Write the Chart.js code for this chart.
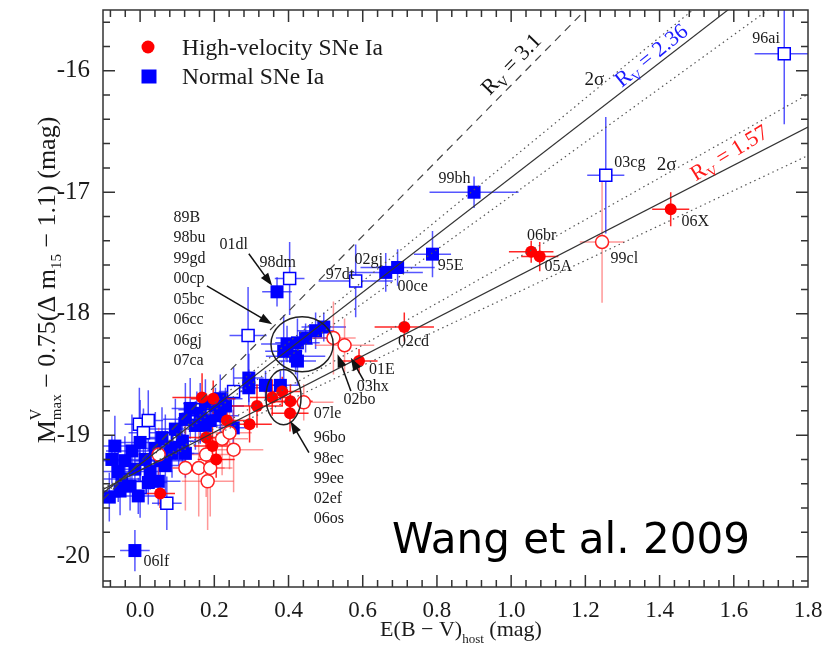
<!DOCTYPE html>
<html>
<head>
<meta charset="utf-8">
<script src="https://cdn.jsdelivr.net/npm/chart.js@4.4.1/dist/chart.umd.min.js"></script>
<style>
  html, body { margin: 0; padding: 0; background: #fff; }
</style>
</head>
<body>
<canvas id="rvChart" width="831" height="649"></canvas>
<script>
// ---- data: [E(B-V), Mmax corrected, xErr, yErr] ----
const hvFilled = [
  [1.430, -17.14, 0.05, 0.14],  // 06X
  [1.054, -17.49, 0.06, 0.09],  // 06br
  [1.077, -17.53, 0.05, 0.12],  // 05A
  [0.712, -18.11, 0.08, 0.12],  // 02cd
  [0.590, -18.39, 0.05, 0.10],  // 01E
  [0.356, -18.69, 0.06, 0.15],
  [0.383, -18.64, 0.05, 0.12],
  [0.405, -18.72, 0.06, 0.14],
  [0.404, -18.82, 0.05, 0.15],
  [0.315, -18.76, 0.07, 0.18],
  [0.295, -18.91, 0.06, 0.15],
  [0.234, -18.88, 0.07, 0.20],
  [0.167, -18.69, 0.08, 0.20],
  [0.197, -18.70, 0.06, 0.15],
  [0.178, -19.02, 0.06, 0.20],
  [0.195, -19.09, 0.05, 0.18],
  [0.205, -19.20, 0.05, 0.15],
  [0.054, -19.48, 0.04, 0.12]
];

const hvOpen = [
  [1.245, -17.41, 0.06, 0.50],  // 99cl
  [0.551, -18.26, 0.08, 0.22],  // 03hx
  [0.521, -18.20, 0.06, 0.30],  // 02bo
  [0.441, -18.73, 0.08, 0.15],  // 07le
  [0.050, -19.16, 0.06, 0.22],
  [0.122, -19.27, 0.06, 0.35],
  [0.158, -19.27, 0.07, 0.40],
  [0.189, -19.27, 0.06, 0.40],
  [0.182, -19.38, 0.07, 0.40],
  [0.178, -19.16, 0.06, 0.35],
  [0.221, -19.03, 0.07, 0.30],
  [0.241, -18.98, 0.06, 0.30],
  [0.252, -19.12, 0.08, 0.35]
];

const nmFilled = [
  [0.900, -17.00, 0.12, 0.13],  // 99bh
  [0.788, -17.51, 0.05, 0.19],  // 95E
  [0.694, -17.62, 0.10, 0.15],  // 00ce
  [0.662, -17.66, 0.10, 0.16],  // 02gj
  [0.369, -17.82, 0.04, 0.12],  // 01dl
  [0.495, -18.11, 0.06, 0.12],
  [0.473, -18.14, 0.05, 0.15],
  [0.446, -18.20, 0.08, 0.12],
  [0.424, -18.24, 0.06, 0.20],
  [0.396, -18.25, 0.07, 0.15],
  [0.387, -18.31, 0.05, 0.30],
  [0.419, -18.35, 0.08, 0.15],
  [0.424, -18.39, 0.05, 0.20],
  [0.293, -18.53, 0.04, 0.20],
  [0.293, -18.61, 0.04, 0.15],
  [0.338, -18.59, 0.05, 0.12],
  [0.378, -18.59, 0.05, 0.12],
  [-0.014, -19.95, 0.04, 0.17], // 06lf
  [-0.083, -19.51, 0.03, 0.20],
  [-0.059, -19.30, 0.06, 0.25],
  [-0.041, -19.21, 0.08, 0.20],
  [-0.049, -19.36, 0.05, 0.15],
  [-0.022, -19.13, 0.07, 0.30],
  [-0.014, -19.28, 0.05, 0.20],
  [0.000, -19.06, 0.06, 0.35],
  [0.014, -19.20, 0.05, 0.25],
  [0.027, -19.30, 0.06, 0.15],
  [0.041, -19.11, 0.05, 0.30],
  [0.054, -19.21, 0.07, 0.20],
  [-0.027, -19.42, 0.04, 0.20],
  [0.022, -19.39, 0.05, 0.18],
  [0.059, -19.02, 0.06, 0.25],
  [0.081, -19.10, 0.05, 0.20],
  [0.095, -18.95, 0.07, 0.25],
  [0.122, -18.87, 0.06, 0.30],
  [0.114, -19.05, 0.05, 0.20],
  [0.149, -18.92, 0.06, 0.20],
  [0.162, -18.82, 0.05, 0.25],
  [0.176, -18.74, 0.06, 0.20],
  [0.203, -18.76, 0.05, 0.15],
  [0.189, -18.88, 0.06, 0.20],
  [0.135, -18.78, 0.05, 0.25],
  [0.216, -18.84, 0.05, 0.15],
  [0.251, -18.94, 0.04, 0.15],
  [-0.076, -19.20, 0.05, 0.20],
  [-0.068, -19.09, 0.05, 0.25],
  [-0.054, -19.46, 0.04, 0.20],
  [-0.005, -19.50, 0.05, 0.15],
  [0.049, -19.38, 0.06, 0.20],
  [0.068, -19.25, 0.05, 0.25],
  [0.086, -19.15, 0.06, 0.20],
  [0.122, -19.15, 0.05, 0.20],
  [0.176, -18.92, 0.05, 0.15],
  [0.216, -18.70, 0.06, 0.20],
  [0.230, -18.76, 0.05, 0.15]
];

const nmOpen = [
  [1.736, -15.86, 0.08, 0.58],  // 96ai
  [1.255, -16.86, 0.05, 0.48],  // 03cg
  [0.581, -17.73, 0.10, 0.30],  // 97dt
  [0.403, -17.71, 0.04, 0.30],  // 98dm
  [0.291, -18.18, 0.05, 0.40],
  [0.252, -18.64, 0.04, 0.20],
  [0.153, -18.79, 0.05, 0.15],
  [-0.002, -18.91, 0.04, 0.30],
  [0.022, -18.88, 0.04, 0.25],
  [0.009, -18.98, 0.04, 0.20],
  [0.068, -19.03, 0.05, 0.20],
  [0.104, -19.05, 0.04, 0.20],
  [0.000, -19.43, 0.04, 0.25],
  [0.072, -19.56, 0.04, 0.22]
];

// reddening-law lines, end points read at the plot edges
const rv31Line = [[-0.1, -19.53], [1.8, -13.64]];
const rv236Line = [[-0.1, -19.476], [1.8, -14.99]];
const rv236Upper = [[-0.1, -19.491], [1.8, -14.72]];
const rv236Lower = [[-0.1, -19.461], [1.8, -15.262]];
const rv157Line = [[-0.1, -19.447], [1.8, -16.464]];
const rv157Upper = [[-0.1, -19.462], [1.8, -16.194]];
const rv157Lower = [[-0.1, -19.434], [1.8, -16.698]];

const xMajor = [0, 0.2, 0.4, 0.6, 0.8, 1.0, 1.2, 1.4, 1.6, 1.8];
const yMajor = [-20, -19, -18, -17, -16];

// SN name labels: [text, E(B-V) at left edge, M at baseline]
const snLabels = [
  ["96ai", 1.650, -15.769], ["03cg", 1.278, -16.791], ["06X", 1.459, -17.277],
  ["99cl", 1.268, -17.582], ["06br", 1.043, -17.392], ["05A", 1.090, -17.647],
  ["99bh", 0.804, -16.923], ["95E", 0.802, -17.639], ["00ce", 0.694, -17.812],
  ["02gj", 0.578, -17.590], ["97dt", 0.500, -17.713], ["98dm", 0.322, -17.614],
  ["01dl", 0.214, -17.466], ["01E", 0.617, -18.496], ["03hx", 0.584, -18.636],
  ["02bo", 0.548, -18.743], ["02cd", 0.695, -18.265], ["06lf", 0.009, -20.077],
  ["07le", 0.468, -18.856]
];
const groupUpper = ["89B", "98bu", "99gd", "00cp", "05bc", "06cc", "06gj", "07ca"];
const groupUpperY = [-17.244, -17.413, -17.582, -17.750, -17.919, -18.088, -18.257, -18.426];
const groupLower = ["96bo", "98ec", "99ee", "02ef", "06os"];
const groupLowerY = [-19.056, -19.226, -19.394, -19.559, -19.723];

// arrows: [from E, from M, to E, to M]
const arrows = [
  [0.293, -17.507, 0.356, -17.771],
  [0.180, -17.771, 0.356, -18.087],
  [0.568, -18.636, 0.532, -18.334],
  [0.603, -18.554, 0.568, -18.362],
  [0.455, -19.144, 0.405, -18.883]
];
// ellipses: [centre E, centre M, half-width E, half-height M]
const ellipses = [
  [0.4365, -18.251, 0.0838, 0.2265],
  [0.3865, -18.687, 0.0473, 0.2265]
];

const SERIF = '"Liberation Serif", "Times New Roman", serif';

function toXY(rows) { return rows.map(r => ({ x: r[0], y: r[1] })); }

function lineSet(pts, color, dash) {
  return {
    type: "line",
    data: toXY(pts),
    borderColor: color,
    borderWidth: 1.2,
    borderDash: dash,
    pointRadius: 0,
    fill: false,
    order: 0
  };
}

function richText(ctx, parts, x, y, angle, align) {
  ctx.save();
  ctx.translate(x, y);
  ctx.rotate(angle);
  ctx.textBaseline = "alphabetic";
  ctx.textAlign = "left";
  let total = 0;
  parts.forEach(p => {
    ctx.font = `${p.size}px ${SERIF}`;
    if (!p.stack) total += ctx.measureText(p.t).width;
  });
  let cx = align === "center" ? -total / 2 : 0;
  parts.forEach(p => {
    ctx.font = `${p.size}px ${SERIF}`;
    ctx.fillStyle = p.color || ctx.fillStyle;
    ctx.fillText(p.t, cx, p.dy || 0);
    if (!p.stack) cx += ctx.measureText(p.t).width;
  });
  ctx.restore();
}

function noScalePadding(scale) {
  scale.paddingTop = 0;
  scale.paddingBottom = 0;
  scale.paddingLeft = 0;
  scale.paddingRight = 0;
}

const errorBars = {
  id: "errorBars",
  beforeDatasetsDraw(chart) {
    const { ctx, chartArea: a, scales: { x, y } } = chart;
    ctx.save();
    ctx.beginPath();
    ctx.rect(a.left, a.top, a.right - a.left, a.bottom - a.top);
    ctx.clip();
    ctx.lineWidth = 1.5;
    chart.data.datasets.forEach(ds => {
      if (!ds.errs) return;
      ctx.strokeStyle = ds.errColor;
      ds.errs.forEach(r => {
        const px = x.getPixelForValue(r[0]);
        const py = y.getPixelForValue(r[1]);
        ctx.beginPath();
        ctx.moveTo(x.getPixelForValue(r[0] - r[2]), py);
        ctx.lineTo(x.getPixelForValue(r[0] + r[2]), py);
        ctx.moveTo(px, y.getPixelForValue(r[1] - r[3]));
        ctx.lineTo(px, y.getPixelForValue(r[1] + r[3]));
        ctx.stroke();
      });
    });
    ctx.restore();
  }
};

const decorations = {
  id: "decorations",
  afterDatasetsDraw(chart) {
    const { ctx, chartArea: a, scales: { x, y } } = chart;
    const X = v => x.getPixelForValue(v);
    const Y = v => y.getPixelForValue(v);

    // frame and inward ticks on all four sides
    ctx.save();
    ctx.strokeStyle = "#333";
    ctx.lineWidth = 1.5;
    ctx.strokeRect(a.left, a.top, a.right - a.left, a.bottom - a.top);
    ctx.beginPath();
    for (let i = -1; i < xMajor.length - 1; i++) {
      const lo = i < 0 ? -0.2 : xMajor[i];
      for (let k = 0; k < 5; k++) {
        const v = lo + k * 0.04;
        if (v < -0.1 || v > 1.8) continue;
        const px = X(v);
        const len = k === 0 ? 12 : 7;
        ctx.moveTo(px, a.bottom); ctx.lineTo(px, a.bottom - len);
        ctx.moveTo(px, a.top); ctx.lineTo(px, a.top + len);
      }
    }
    for (let i = -1; i < yMajor.length; i++) {
      const lo = i < 0 ? -21 : yMajor[i];
      for (let k = 0; k < 5; k++) {
        const v = lo + k * 0.2;
        if (v < -20.25 || v > -15.5) continue;
        const py = Y(v);
        const len = k === 0 ? 12 : 7;
        ctx.moveTo(a.left, py); ctx.lineTo(a.left + len, py);
        ctx.moveTo(a.right, py); ctx.lineTo(a.right - len, py);
      }
    }
    ctx.stroke();
    ctx.restore();

    // ellipses
    ctx.save();
    ctx.strokeStyle = "#222";
    ctx.lineWidth = 1.5;
    ellipses.forEach(e => {
      ctx.beginPath();
      ctx.ellipse(X(e[0]), Y(e[1]), X(e[0] + e[2]) - X(e[0]), Y(e[1]) - Y(e[1] + e[3]), 0, 0, Math.PI * 2);
      ctx.stroke();
    });

    // arrows
    ctx.fillStyle = "#111";
    ctx.strokeStyle = "#111";
    ctx.lineWidth = 1.5;
    arrows.forEach(r => {
      const x0 = X(r[0]), y0 = Y(r[1]), x1 = X(r[2]), y1 = Y(r[3]);
      const ang = Math.atan2(y1 - y0, x1 - x0);
      ctx.beginPath();
      ctx.moveTo(x0, y0);
      ctx.lineTo(x1 - 8 * Math.cos(ang), y1 - 8 * Math.sin(ang));
      ctx.stroke();
      ctx.beginPath();
      ctx.moveTo(x1, y1);
      ctx.lineTo(x1 - 13 * Math.cos(ang) + 4.5 * Math.sin(ang), y1 - 13 * Math.sin(ang) - 4.5 * Math.cos(ang));
      ctx.lineTo(x1 - 13 * Math.cos(ang) - 4.5 * Math.sin(ang), y1 - 13 * Math.sin(ang) + 4.5 * Math.cos(ang));
      ctx.closePath();
      ctx.fill();
    });
    ctx.restore();

    // SN names
    ctx.save();
    ctx.fillStyle = "#1a1a1a";
    ctx.font = `16px ${SERIF}`;
    ctx.textBaseline = "alphabetic";
    snLabels.forEach(l => ctx.fillText(l[0], X(l[1]), Y(l[2])));
    groupUpper.forEach((t, i) => ctx.fillText(t, X(0.09), Y(groupUpperY[i])));
    groupLower.forEach((t, i) => ctx.fillText(t, X(0.468), Y(groupLowerY[i])));

    // line annotations
    ctx.font = `19px ${SERIF}`;
    ctx.textAlign = "center";
    ctx.textBaseline = "middle";
    ctx.fillText("2σ", X(1.224), Y(-16.074));
    ctx.fillText("2σ", X(1.419), Y(-16.78));
    ctx.restore();

    richText(ctx, [
      { t: "R", size: 22, color: "#111" }, { t: "V", size: 14, dy: 5 },
      { t: " = 3.1", size: 22 }
    ], X(1.0135), Y(-15.918) + 8, -0.80, "center");
    richText(ctx, [
      { t: "R", size: 22, color: "#1a1aff" }, { t: "V", size: 14, dy: 5 },
      { t: " = 2.36", size: 22 }
    ], X(1.389), Y(-15.86) + 7, -0.68, "center");
    richText(ctx, [
      { t: "R", size: 22, color: "#ff1a1a" }, { t: "V", size: 14, dy: 5 },
      { t: " = 1.57", size: 22 }
    ], X(1.597), Y(-16.667) + 7, -0.55, "center");

    // legend
    ctx.save();
    ctx.fillStyle = "#ff0000";
    ctx.beginPath();
    ctx.arc(148, 47, 6.5, 0, Math.PI * 2);
    ctx.fill();
    ctx.fillStyle = "#0000ff";
    ctx.fillRect(141.5, 69.5, 15, 14);
    ctx.fillStyle = "#1a1a1a";
    ctx.font = `23.5px ${SERIF}`;
    ctx.textBaseline = "alphabetic";
    ctx.fillText("High-velocity SNe Ia", 182, 55);
    ctx.fillText("Normal SNe Ia", 182, 84);

    // credit
    ctx.fillStyle = "#000";
    ctx.font = '42px "DejaVu Sans", sans-serif';
    ctx.fillText("Wang et al. 2009", 392, 553);
    ctx.restore();

    // axis titles
    ctx.fillStyle = "#1a1a1a";
    richText(ctx, [
      { t: "E(B − V)", size: 22 }, { t: "host", size: 13, dy: 7 }, { t: " (mag)", size: 22 }
    ], 461, 636, 0, "center");
    richText(ctx, [
      { t: "M", size: 26 }, { t: "V", size: 16, dy: -14, stack: true },
      { t: "max", size: 15, dy: 6 },
      { t: " − 0.75(Δ m", size: 26 }, { t: "15", size: 15, dy: 6 },
      { t: " − 1.1) (mag)", size: 26 }
    ], 55, 280, -Math.PI / 2, "center");
  }
};

const ctx = document.getElementById("rvChart");

new Chart(ctx, {
  data: {
    datasets: [
      lineSet(rv31Line, "#444", [8, 6]),
      lineSet(rv236Line, "#333", []),
      lineSet(rv236Upper, "#555", [1.5, 3.5]),
      lineSet(rv236Lower, "#555", [1.5, 3.5]),
      lineSet(rv157Line, "#333", []),
      lineSet(rv157Upper, "#555", [1.5, 3.5]),
      lineSet(rv157Lower, "#555", [1.5, 3.5]),
      {
        type: "scatter",
        label: "Normal SNe Ia (open)",
        data: toXY(nmOpen),
        errs: nmOpen,
        errColor: "rgba(30,30,255,0.75)",
        pointStyle: "rect",
        pointRadius: 8.5,
        backgroundColor: "#ffffff",
        borderColor: "#0000ff",
        borderWidth: 1.5,
        order: 4
      },
      {
        type: "scatter",
        label: "Normal SNe Ia",
        data: toXY(nmFilled),
        errs: nmFilled,
        errColor: "rgba(30,30,255,0.75)",
        pointStyle: "rect",
        pointRadius: 9.2,
        backgroundColor: "#0000ff",
        borderColor: "#0000ff",
        borderWidth: 0,
        order: 3
      },
      {
        type: "scatter",
        label: "High-velocity SNe Ia (open)",
        data: toXY(hvOpen),
        errs: hvOpen,
        errColor: "rgba(255,50,50,0.5)",
        pointStyle: "circle",
        pointRadius: 6.5,
        backgroundColor: "#ffffff",
        borderColor: "#ff2020",
        borderWidth: 1.5,
        order: 2
      },
      {
        type: "scatter",
        label: "High-velocity SNe Ia",
        data: toXY(hvFilled),
        errs: hvFilled,
        errColor: "rgba(255,0,0,0.85)",
        pointStyle: "circle",
        pointRadius: 6,
        backgroundColor: "#ff0000",
        borderColor: "#ff0000",
        borderWidth: 0,
        order: 1
      }
    ]
  },
  plugins: [errorBars, decorations],
  options: {
    responsive: false,
    animation: false,
    layout: { padding: { top: 9, right: 23, left: 0, bottom: 0 } },
    plugins: { legend: { display: false }, tooltip: { enabled: false } },
    scales: {
      x: {
        type: "linear",
        min: -0.1,
        max: 1.8,
        afterBuildTicks(scale) { scale.ticks = xMajor.map(v => ({ value: v })); },
        afterFit(scale) { scale.height = 62; noScalePadding(scale); },
        grid: { display: false },
        border: { display: false },
        ticks: {
          color: "#1a1a1a",
          padding: 2,
          font: { family: SERIF, size: 23 },
          callback: v => Number(v).toFixed(1)
        }
      },
      y: {
        type: "linear",
        min: -20.25,
        max: -15.5,
        afterBuildTicks(scale) { scale.ticks = yMajor.map(v => ({ value: v })); },
        afterFit(scale) { scale.width = 103; noScalePadding(scale); },
        grid: { display: false },
        border: { display: false },
        ticks: {
          color: "#1a1a1a",
          padding: 5,
          font: { family: SERIF, size: 25 },
          callback: v => String(v)
        }
      }
    }
  }
});
</script>
</body>
</html>
